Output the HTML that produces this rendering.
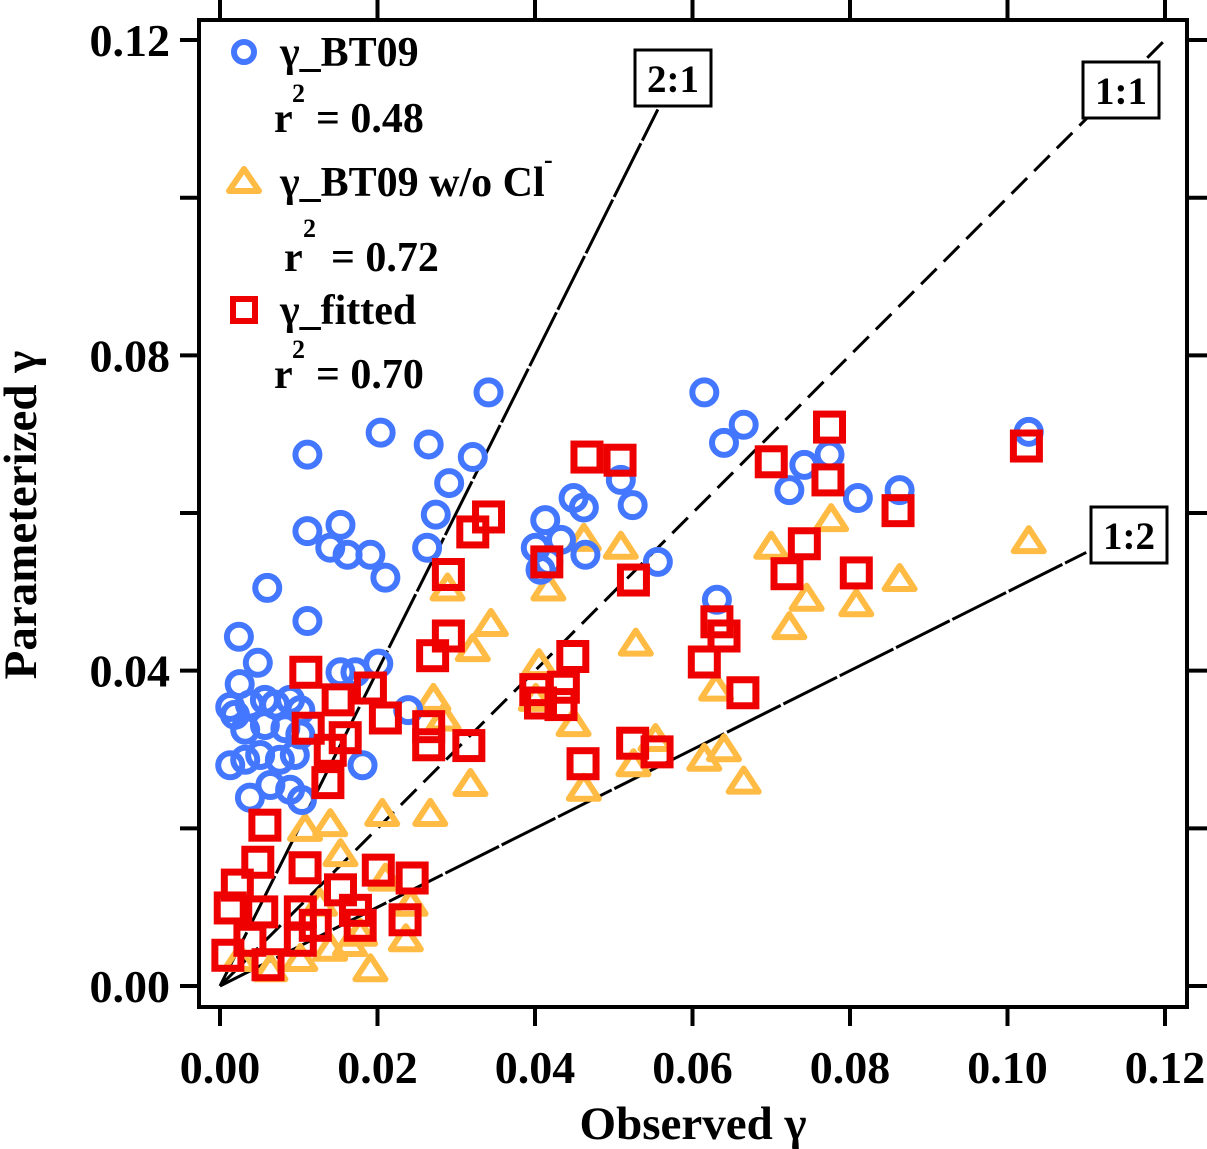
<!DOCTYPE html>
<html><head><meta charset="utf-8">
<style>
html,body{margin:0;padding:0;background:#fff;}
svg{display:block;font-family:"Liberation Serif",serif;font-weight:bold;}
</style></head>
<body>
<svg id="chart" width="1207" height="1149" viewBox="0 0 1207 1149">
<g id="plot"></g>
<g id="marks"></g>
<g id="axes"></g>
<g>
  <circle cx="244" cy="52" r="10" fill="none" stroke="#4477ff" stroke-width="6"/>
  <text x="280" y="66" font-size="42">γ_BT09</text>
  <text x="274" y="132" font-size="42">r</text>
  <text x="292" y="102" font-size="26">2</text>
  <text x="316" y="132" font-size="42">= 0.48</text>
  <polygon points="244,169 259,191 229,191" fill="none" stroke="#ffbb44" stroke-width="6" stroke-linejoin="round"/>
  <text x="280" y="196" font-size="42">γ_BT09 w/o Cl</text>
  <text x="544" y="168" font-size="26">-</text>
  <text x="284" y="271" font-size="42">r</text>
  <text x="303" y="237" font-size="26">2</text>
  <text x="331" y="271" font-size="42">= 0.72</text>
  <rect x="233" y="299" width="22" height="22" fill="none" stroke="#ee0000" stroke-width="6"/>
  <text x="280" y="324" font-size="42">γ_fitted</text>
  <text x="274" y="388" font-size="42">r</text>
  <text x="292" y="358" font-size="26">2</text>
  <text x="316" y="388" font-size="42">= 0.70</text>
</g>
<text x="693" y="1139" font-size="47" text-anchor="middle">Observed γ</text>
<text transform="translate(36,515) rotate(-90)" font-size="47" text-anchor="middle">Parameterized γ</text>
</svg>
<script>
const xTicks=[0,0.02,0.04,0.06,0.08,0.10,0.12];
const yTicks=[0,0.04,0.08,0.12];
const xTickLabels=["0.00","0.02","0.04","0.06","0.08","0.10","0.12"];
const yTickLabels=["0.00","0.04","0.08","0.12"];
const bt09X=[0.0111,0.0204,0.0265,0.0321,0.0341,0.0291,0.0274,0.0263,0.0111,0.0153,0.0140,0.0162,0.0191,0.0210,0.0060,0.0111,0.0024,0.0048,0.0025,0.0201,0.0153,0.0172,0.0013,0.0019,0.0038,0.0057,0.0070,0.0089,0.0102,0.0032,0.0057,0.0083,0.0102,0.0013,0.0032,0.0051,0.0076,0.0095,0.0038,0.0064,0.0089,0.0104,0.0181,0.0239,0.0401,0.0417,0.0413,0.0433,0.0449,0.0462,0.0464,0.0509,0.0524,0.0556,0.0615,0.0640,0.0665,0.0723,0.0742,0.0774,0.0810,0.0863,0.1027,0.0631,0.0407];
const bt09Y=[0.0674,0.0702,0.0687,0.0671,0.0753,0.0638,0.0598,0.0556,0.0577,0.0585,0.0556,0.0547,0.0547,0.0518,0.0505,0.0463,0.0443,0.0410,0.0383,0.0409,0.0398,0.0398,0.0354,0.0344,0.0357,0.0363,0.0357,0.0363,0.0350,0.0325,0.0331,0.0327,0.0319,0.0280,0.0287,0.0293,0.0287,0.0293,0.0239,0.0255,0.0249,0.0236,0.0280,0.0350,0.0556,0.0538,0.0591,0.0566,0.0619,0.0607,0.0547,0.0642,0.0610,0.0538,0.0753,0.0689,0.0712,0.0629,0.0661,0.0674,0.0619,0.0629,0.0703,0.0490,0.0528];
const woClX=[0.0289,0.0271,0.0284,0.0321,0.0344,0.0318,0.0267,0.0206,0.0140,0.0108,0.0153,0.0127,0.0242,0.0236,0.0191,0.0417,0.0405,0.0401,0.0449,0.0462,0.0462,0.0509,0.0528,0.0525,0.0553,0.0615,0.0630,0.0640,0.0665,0.0700,0.0723,0.0745,0.0776,0.0808,0.0863,0.1027,0.0025,0.0064,0.0102,0.0140,0.0178,0.0210,0.0165];
const woClY=[0.0503,0.0363,0.0338,0.0426,0.0458,0.0255,0.0217,0.0217,0.0204,0.0198,0.0166,0.0103,0.0103,0.0058,0.0020,0.0503,0.0407,0.0363,0.0331,0.0249,0.0566,0.0556,0.0433,0.0280,0.0312,0.0287,0.0376,0.0299,0.0258,0.0556,0.0454,0.0490,0.0591,0.0483,0.0515,0.0563,0.0033,0.0020,0.0033,0.0046,0.0065,0.0135,0.0052];
const fitX=[0.0109,0.0150,0.0191,0.0210,0.0159,0.0112,0.0140,0.0137,0.0057,0.0048,0.0022,0.0013,0.0053,0.0102,0.0108,0.0153,0.0172,0.0201,0.0244,0.0235,0.0010,0.0038,0.0061,0.0102,0.0121,0.0178,0.0290,0.0321,0.0341,0.0290,0.0270,0.0265,0.0265,0.0316,0.0415,0.0466,0.0508,0.0525,0.0448,0.0436,0.0401,0.0407,0.0433,0.0461,0.0524,0.0555,0.0615,0.0631,0.0640,0.0664,0.0700,0.0720,0.0742,0.0774,0.0772,0.0808,0.0861,0.1024];
const fitY=[0.0398,0.0363,0.0378,0.0340,0.0315,0.0327,0.0299,0.0258,0.0204,0.0157,0.0128,0.0099,0.0094,0.0094,0.0150,0.0122,0.0096,0.0147,0.0137,0.0084,0.0039,0.0058,0.0027,0.0058,0.0077,0.0077,0.0522,0.0576,0.0595,0.0444,0.0419,0.0329,0.0306,0.0305,0.0538,0.0671,0.0667,0.0515,0.0418,0.0379,0.0376,0.0359,0.0357,0.0282,0.0308,0.0297,0.0411,0.0462,0.0444,0.0372,0.0665,0.0523,0.0561,0.0709,0.0642,0.0524,0.0603,0.0685];
const refSlopes=[2,1,0.5];
const refLabels=["2:1","1:1","1:2"];
const refEndX=[0.0556,0.1200,0.1100];

const NS="http://www.w3.org/2000/svg";
const X0=220,XS=7875,Y0=986,YS=7883;
function sx(v){return X0+v*XS;}
function sy(v){return Y0-v*YS;}
function mk(tag,attrs,parent){const e=document.createElementNS(NS,tag);for(const k in attrs)e.setAttribute(k,attrs[k]);parent.appendChild(e);return e;}
const plot=document.getElementById('plot'),marks=document.getElementById('marks'),axes=document.getElementById('axes');

const refBoxes=[[635,50],[1083,62],[1091,507]];
refSlopes.forEach((s,i)=>{
  const ln=mk('line',{x1:sx(0),y1:sy(0),x2:sx(refEndX[i]),y2:sy(refEndX[i]*s),stroke:'#000','stroke-width':3,'stroke-dasharray':i===1?'22,10':'60,3'},plot);
  
  
  const b=refBoxes[i];
  const r=mk('rect',{x:b[0],y:b[1],width:76,height:56,fill:'#fff',stroke:'#000','stroke-width':3},plot);
  
  
  const t=mk('text',{x:b[0]+38,y:b[1]+42,'font-size':39,'text-anchor':'middle'},plot);
  t.textContent=refLabels[i];
  
  
});

woClX.forEach((x,i)=>{
  const cx=sx(x),cy=sy(woClY[i]);
  const p=mk('polygon',{points:`${cx},${cy-14} ${cx+15},${cy+9} ${cx-15},${cy+9}`,fill:'none',stroke:'#ffbb44','stroke-width':6,'stroke-linejoin':'round'},marks);
  
  
});
bt09X.forEach((x,i)=>{
  const c=mk('circle',{cx:sx(x),cy:sy(bt09Y[i]),r:12,fill:'none',stroke:'#4477ff','stroke-width':6},marks);
  
  
});
fitX.forEach((x,i)=>{
  const r=mk('rect',{x:sx(x)-13,y:sy(fitY[i])-13,width:26,height:26,fill:'none',stroke:'#ee0000','stroke-width':7},marks);
  
  
});

const fr=mk('rect',{x:199,y:20,width:988,height:987,fill:'none',stroke:'#000','stroke-width':4},axes);


xTicks.forEach((v,i)=>{
  const x=sx(v);
  const t1=mk('line',{x1:x,y1:1007,x2:x,y2:1026,stroke:'#000','stroke-width':4},axes);
  
  
  const t2=mk('line',{x1:x,y1:20,x2:x,y2:0,stroke:'#000','stroke-width':4},axes);
  
  
  const l=mk('text',{x:x,y:1083,'font-size':46,'text-anchor':'middle'},axes);
  l.textContent=xTickLabels[i];
  
  
});
for(let v=0;v<=0.1201;v+=0.02){
  const y=sy(v);
  const t1=mk('line',{x1:199,y1:y,x2:180,y2:y,stroke:'#000','stroke-width':4},axes);
  
  
  const t2=mk('line',{x1:1187,y1:y,x2:1207,y2:y,stroke:'#000','stroke-width':4},axes);
  
  
}
yTicks.forEach((v,i)=>{
  const l=mk('text',{x:170,y:sy(v)+16,'font-size':46,'text-anchor':'end'},axes);
  l.textContent=yTickLabels[i];
  
  
});
</script>
</body></html>
